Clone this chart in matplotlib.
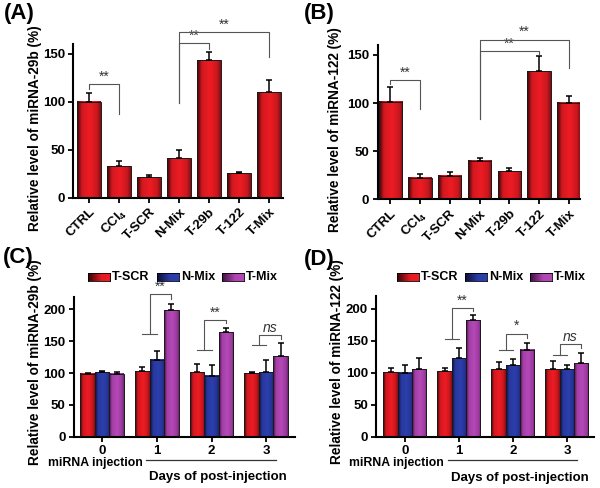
import numpy as np
import matplotlib
matplotlib.use('Agg')
import matplotlib.pyplot as plt
from matplotlib.colors import LinearSegmentedColormap

plt.rcParams['font.family'] = ['Liberation Sans', 'DejaVu Sans']
plt.rcParams['font.weight'] = 'bold'
plt.rcParams['mathtext.fontset'] = 'custom'
plt.rcParams['mathtext.rm'] = 'Liberation Sans:bold'
plt.rcParams['mathtext.bf'] = 'Liberation Sans:bold'
plt.rcParams['mathtext.default'] = 'rm'

# ---- data ----
groups_ab = ['CTRL', 'CCl$_4$', 'T-SCR', 'N-Mix', 'T-29b', 'T-122', 'T-Mix']
a_vals = [100, 33, 21, 41, 143, 26, 110]
a_err = [9, 5, 3, 9, 9, 1, 12]
b_vals = [101, 22, 24, 40, 29, 133, 100]
b_err = [16, 4, 4, 3, 4, 16, 7]

days = [0, 1, 2, 3]
series = ['T-SCR', 'N-Mix', 'T-Mix']
c_tscr = [99, 103, 102, 100]
c_tscr_err = [1, 7, 13, 2]
c_nmix = [101, 121, 96, 101]
c_nmix_err = [2, 13, 17, 19]
c_tmix = [99, 199, 164, 127]
c_tmix_err = [3, 10, 7, 21]
d_tscr = [101, 102, 106, 106]
d_tscr_err = [7, 6, 11, 12]
d_nmix = [100, 123, 112, 105]
d_nmix_err = [12, 15, 9, 7]
d_tmix = [105, 182, 136, 115]
d_tmix_err = [18, 8, 11, 16]

# significance brackets: (i, j, top, left foot, right foot, mark)
a_sig = [(0, 1, 118, 113, 87, '**'), (3, 4, 161, 99, 155, '**'), (3, 6, 172, 99, 146, '**')]
b_sig = [(0, 1, 124, 120, 94, '**'), (3, 5, 154, 83, 151, '**'), (3, 6, 166, 83, 136, '**')]
# (day, short line, top, right foot, mark)
c_sig = [(1, 161, 224, 216, '**'), (2, 136, 184, 178, '**'), (3, 144, 160, 153, 'ns')]
d_sig = [(1, 153, 201, 196, '**'), (2, 135, 161, 154, '*'), (3, 128, 144, 138, 'ns')]

# ---- colours ----
cm_red = LinearSegmentedColormap.from_list('r', ['#2a0203', '#ee1c24'])
cm_blue = LinearSegmentedColormap.from_list('b', ['#0a0a30', '#2c3fae'])
cm_mag = LinearSegmentedColormap.from_list('m', ['#3a0a3a', '#b548b8'])
cmaps = [cm_red, cm_blue, cm_mag]

t = np.linspace(0, 1, 60)
bar_prof = np.interp(t, [0, 0.2, 0.55, 0.85, 1], [0.05, 0.85, 1.0, 0.8, 0.45]).reshape(1, -1)
leg_prof = np.interp(t, [0, 0.6, 1], [0.05, 0.95, 1.0]).reshape(1, -1)


def gradient_bars(ax, x, h, w, cmap, err):
    bars = ax.bar(x, h, w, facecolor='none', edgecolor='#1a1a1a', lw=0.7, zorder=3)
    for b in bars:
        x0, y0 = b.get_x(), b.get_y()
        ax.imshow(bar_prof, extent=(x0, x0 + b.get_width(), y0, y0 + b.get_height()),
                  aspect='auto', cmap=cmap, vmin=0, vmax=1, zorder=2, interpolation='bilinear')
    ax.errorbar(x, h, yerr=[np.zeros(len(err)), err], fmt='none', ecolor='k',
                elinewidth=1.1, capsize=2, capthick=1.1, zorder=4)


def style(ax):
    for s in ['top', 'right']:
        ax.spines[s].set_visible(False)
    for s in ['left', 'bottom']:
        ax.spines[s].set_linewidth(1.5)
    ax.tick_params(width=1.3, length=3.5, labelsize=9.5, pad=2.5)


lc = '#555555'


def bracket_ab(ax, sig):
    for i, j, top, lf, rf, mark in sig:
        ax.plot([i, i, j, j], [lf, top, top, rf], color=lc, lw=0.8, clip_on=False, zorder=5)
        ax.text((i + j) / 2, top + 0.5, mark, ha='center', va='bottom', fontsize=10,
                color='#333333', fontweight='normal')


def bracket_cd(ax, sig, w):
    for d, short, top, rf, mark in sig:
        xm = d - w / 2
        ax.plot([d - w, d], [short, short], color=lc, lw=0.8, clip_on=False, zorder=5)
        ax.plot([xm, xm, d + w, d + w], [short, top, top, rf], color=lc, lw=0.8, clip_on=False, zorder=5)
        st = 'italic' if mark == 'ns' else 'normal'
        ax.text((xm + d + w) / 2, top + 0.5, mark, ha='center', va='bottom', fontsize=10,
                color='#333333', fontweight='normal', style=st)


fig = plt.figure(figsize=(6, 4.88), dpi=100)

# ---- panel A and B ----
for pos, vals, err, sig, ylab, xl, lab_xy in [
        ([0.122, 0.595, 0.35, 0.315], a_vals, a_err, a_sig, 'Relative level of miRNA-29b (%)',
         (-0.53, 6.47), (-0.15, 0.45)),
        ([0.6295, 0.5916, 0.337, 0.3155], b_vals, b_err, b_sig, 'Relative level of miRNA-122 (%)',
         (-0.42, 6.37), (-0.175, 0.45))]:
    ax = fig.add_axes(pos)
    x = np.arange(len(groups_ab))
    gradient_bars(ax, x, vals, 0.78, cm_red, err)
    bracket_ab(ax, sig)
    ax.set_xlim(*xl)
    ax.set_ylim(0, 160)
    ax.set_yticks([0, 50, 100, 150])
    ax.set_xticks(x)
    ax.set_xticklabels(groups_ab, rotation=45, ha='right', rotation_mode='anchor')
    style(ax)
    ax.set_ylabel(ylab, fontsize=9.8, fontweight='bold')
    ax.yaxis.set_label_coords(*lab_xy)

# ---- panel C and D ----
w = 0.265
for pos, sets, sig, ylab, xl, legx, lab_xy, inj_x in [
        ([0.123, 0.105, 0.369, 0.287],
         [(c_tscr, c_tscr_err), (c_nmix, c_nmix_err), (c_tmix, c_tmix_err)],
         c_sig, 'Relative level of miRNA-29b (%)', (-0.52, 3.53), [88, 157, 222], (-0.145, 0.53), -0.12),
        ([0.627, 0.105, 0.363, 0.289],
         [(d_tscr, d_tscr_err), (d_nmix, d_nmix_err), (d_tmix, d_tmix_err)],
         d_sig, 'Relative level of miRNA-122 (%)', (-0.53, 3.5), [397, 465, 530], (-0.147, 0.53), -0.15)]:
    ax = fig.add_axes(pos)
    x = np.array(days)
    for k, (v, e) in enumerate(sets):
        gradient_bars(ax, x + (k - 1) * w, v, w, cmaps[k], e)
    bracket_cd(ax, sig, w)
    ax.set_xlim(*xl)
    ax.set_ylim(0, 220)
    ax.set_yticks([0, 50, 100, 150, 200])
    ax.set_xticks(x)
    ax.set_xticklabels([str(d) for d in days])
    style(ax)
    ax.set_ylabel(ylab, fontsize=9.8, fontweight='bold')
    ax.yaxis.set_label_coords(*lab_xy)
    tr = ax.get_xaxis_transform()
    ax.text(inj_x, -0.185, 'miRNA injection', transform=tr, ha='center', va='center', fontsize=8.8)
    ax.plot([0.8, 3.18], [-0.165, -0.165], transform=tr, color='#333333', lw=0.9, clip_on=False)
    ax.text(2.12, -0.29, 'Days of post-injection', transform=tr, ha='center', va='center', fontsize=9.5)
    # legend
    for k, name in enumerate(series):
        lx = legx[k] / 600
        lax = fig.add_axes([lx, 1 - 281 / 488, 22 / 600, 8 / 488])
        lax.imshow(leg_prof, aspect='auto', cmap=cmaps[k], vmin=0, vmax=1, interpolation='bilinear')
        lax.set_xticks([])
        lax.set_yticks([])
        for s in lax.spines.values():
            s.set_linewidth(0.6)
        fig.text(lx + 24 / 600, 1 - 277 / 488, name, ha='left', va='center', fontsize=9)

for lab, px, py in [('(A)', 4, 14), ('(B)', 304, 14), ('(C)', 3, 258), ('(D)', 304, 260)]:
    fig.text(px / 600, 1 - py / 488, lab, ha='left', va='center', fontsize=16, fontweight='bold')

fig.savefig('out.png', dpi=100)
